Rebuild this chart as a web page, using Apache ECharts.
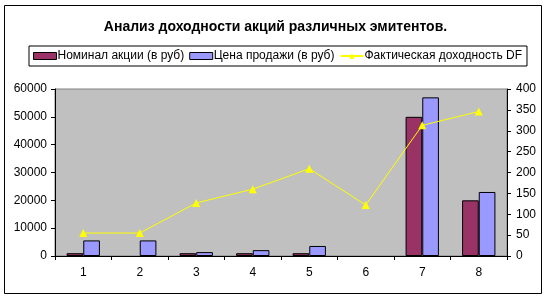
<!DOCTYPE html>
<html><head><meta charset="utf-8">
<script src="https://cdn.jsdelivr.net/npm/echarts@6/dist/echarts.min.js"></script>
<style>html,body{margin:0;padding:0;background:#fff}#c{width:551px;height:300px}</style>
</head><body><div id="c"></div>
<script>
var categories = ['1','2','3','4','5','6','7','8'];
var nominal = [1000, null, 1000, 1000, 1000, null, 50000, 20000];
var price = [5600, 5600, 1400, 2100, 3600, null, 57000, 23000];
var yieldDF = [55, 55, 127, 160, 209, 122, 313, 346];
var seriesNames = ['Номинал акции (в руб)', 'Цена продажи (в руб)', 'Фактическая доходность DF'];
var titleText = 'Анализ доходности акций различных эмитентов.';

var chart = echarts.init(document.getElementById('c'), null, {renderer: 'canvas'});
var font = 'Arial, "Liberation Sans", sans-serif';
function plain(v) { return String(v); }
chart.setOption({
  animation: false,
  backgroundColor: '#fff',
  graphic: [{type: 'rect', shape: {x: 4.5, y: 5.5, width: 537, height: 288}, style: {fill: null, stroke: '#000', lineWidth: 1}, z: 100}],
  title: {text: titleText, left: 'center', top: 15, textStyle: {fontFamily: font, fontSize: 14, fontWeight: 'bold', color: '#000'}},
  legend: {
    top: 46, left: 29, width: 510,
    padding: [4, 5, 4, 4],
    borderColor: '#000', borderWidth: 1,
    itemGap: 5, itemWidth: 23, itemHeight: 7,
    textStyle: {fontFamily: font, fontSize: 12, color: '#000', padding: [0, 0, 0, -4]},
    data: [
      {name: seriesNames[0], icon: 'rect', itemStyle: {borderColor: '#000', borderWidth: 1}},
      {name: seriesNames[1], icon: 'rect', itemStyle: {borderColor: '#000', borderWidth: 1}},
      {name: seriesNames[2]}
    ]
  },
  grid: {left: 55, right: 44, top: 89, bottom: 44, show: true, backgroundColor: '#C0C0C0', borderColor: '#808080', borderWidth: 1},
  xAxis: {
    type: 'category', data: categories,
    axisLine: {lineStyle: {color: '#000', width: 1}},
    axisTick: {show: true, length: 4, lineStyle: {color: '#000'}},
    axisLabel: {fontFamily: font, fontSize: 12, color: '#000', margin: 11}
  },
  yAxis: [
    {type: 'value', min: 0, max: 60000, interval: 10000, position: 'left',
      axisLine: {show: true, lineStyle: {color: '#000'}},
      axisTick: {show: true, length: 4, lineStyle: {color: '#000'}},
      splitLine: {show: false},
      axisLabel: {fontFamily: font, fontSize: 12, color: '#000', margin: 8, formatter: plain}},
    {type: 'value', min: 0, max: 400, interval: 50, position: 'right',
      axisLine: {show: true, lineStyle: {color: '#000'}},
      axisTick: {show: true, length: 4, lineStyle: {color: '#000'}},
      splitLine: {show: false},
      axisLabel: {fontFamily: font, fontSize: 12, color: '#000', margin: 9, formatter: plain}}
  ],
  series: [
    {name: seriesNames[0], type: 'bar', data: nominal, barGap: '0%', barCategoryGap: '41%',
      itemStyle: {color: '#993366', borderColor: '#000', borderWidth: 1}},
    {name: seriesNames[1], type: 'bar', data: price, barGap: '0%', barCategoryGap: '41%',
      itemStyle: {color: '#9999FF', borderColor: '#000', borderWidth: 1}},
    {name: seriesNames[2], type: 'line', yAxisIndex: 1, data: yieldDF, connectNulls: true,
      symbol: 'triangle', symbolSize: 8,
      lineStyle: {color: '#FFFF00', width: 1}, itemStyle: {color: '#FFFF00'}, z: 10}
  ]
});
</script></body></html>
